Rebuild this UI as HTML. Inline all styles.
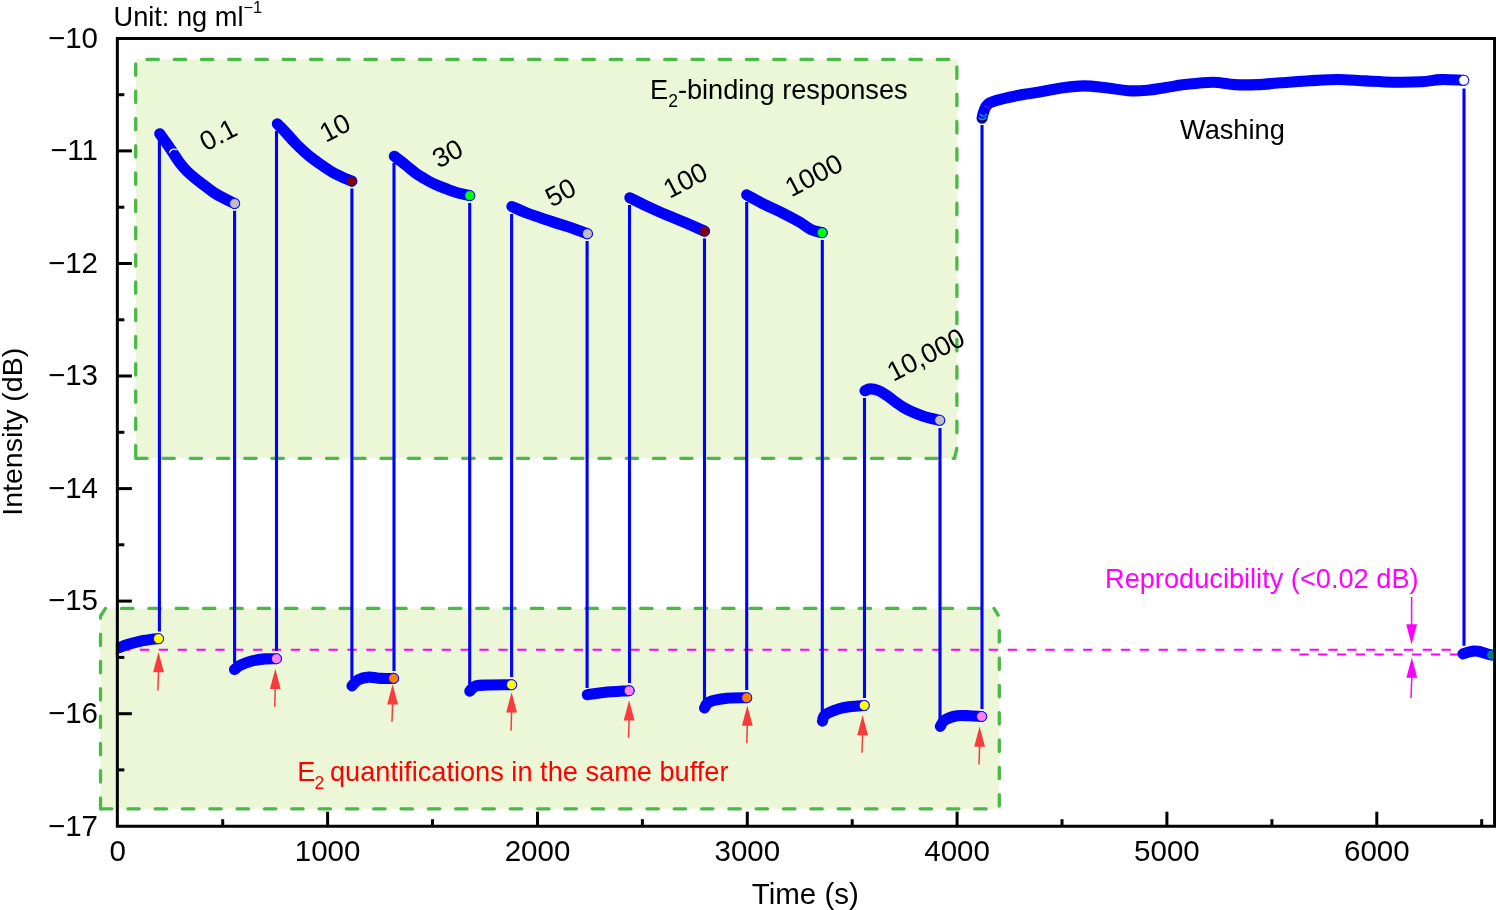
<!DOCTYPE html>
<html lang="en"><head><meta charset="utf-8"><title>E2 binding responses</title>
<style>html,body{margin:0;padding:0;background:#fff}body{width:1496px;height:910px;overflow:hidden}svg{display:block}text{font-family:"Liberation Sans",sans-serif;fill:#000}</style>
</head><body>
<svg width="1496" height="910" viewBox="0 0 1496 910">
<rect width="1496" height="910" fill="#fff"/>
<defs><clipPath id="plot"><rect x="115.85" y="38.4" width="1378.75" height="787.8000000000001"/></clipPath></defs>
<path d="M135.7,458.3 L954.5,458.3 L956.9,448 L956.9,59.4 L135.7,59.4 Z" fill="#ebf7d6"/>
<path d="M100.5,808.8 L999.3,808.8 L999.3,617 L994,608.4 L105.5,608.4 L100.5,616 Z" fill="#ebf7d6"/>
<path d="M135.7,458.3 L954.5,458.3 L956.9,448 L956.9,59.4 L135.7,59.4 Z" fill="none" stroke="#4cb848" stroke-width="3.3" stroke-linecap="round" stroke-linejoin="round" stroke-dasharray="11.4 15.85"/>
<path d="M100.5,808.8 L999.3,808.8 L999.3,617 L994,608.4" fill="none" stroke="#4cb848" stroke-width="3.3" stroke-linecap="round" stroke-linejoin="round" stroke-dasharray="11.4 15.92"/>
<path d="M994,608.4 L105.5,608.4 L100.5,616 L100.5,808.8" fill="none" stroke="#4cb848" stroke-width="3.3" stroke-linecap="round" stroke-linejoin="round" stroke-dasharray="11.4 15.92" stroke-dashoffset="13.2"/>
<path d="M121,649.7 H1463" stroke="#ff00ff" stroke-width="2.1" stroke-dasharray="9.3 9.565" fill="none"/>
<path d="M1299.3,654.5 H1459.5" stroke="#ff00ff" stroke-width="2.1" stroke-dasharray="9.3 9.5" fill="none"/>
<path d="M159.4,631.4 V141" stroke="#0000ff" stroke-width="3.1" fill="none"/>
<path d="M234.6,210.8 V663" stroke="#0000ff" stroke-width="3.1" fill="none"/>
<path d="M276.5,651 V131" stroke="#0000ff" stroke-width="3.1" fill="none"/>
<path d="M351.9,188.5 V679" stroke="#0000ff" stroke-width="3.1" fill="none"/>
<path d="M394,671 V163" stroke="#0000ff" stroke-width="3.1" fill="none"/>
<path d="M469.7,203 V684.5" stroke="#0000ff" stroke-width="3.1" fill="none"/>
<path d="M511.6,677 V214" stroke="#0000ff" stroke-width="3.1" fill="none"/>
<path d="M587.1,241 V688" stroke="#0000ff" stroke-width="3.1" fill="none"/>
<path d="M629.5,683 V205" stroke="#0000ff" stroke-width="3.1" fill="none"/>
<path d="M704.5,238.5 V701" stroke="#0000ff" stroke-width="3.1" fill="none"/>
<path d="M746.7,690 V202" stroke="#0000ff" stroke-width="3.1" fill="none"/>
<path d="M822.3,240 V714" stroke="#0000ff" stroke-width="3.1" fill="none"/>
<path d="M864.5,698 V398" stroke="#0000ff" stroke-width="3.1" fill="none"/>
<path d="M940,428 V720" stroke="#0000ff" stroke-width="3.1" fill="none"/>
<path d="M982,709 V125" stroke="#0000ff" stroke-width="3.1" fill="none"/>
<path d="M1464.0,88.4 V645.8" stroke="#0000ff" stroke-width="3.1" fill="none"/>
<g clip-path="url(#plot)">
<path d="M112.0,650.2 C112.9,649.8 115.5,648.8 117.6,648.0 C119.7,647.2 122.2,646.4 124.5,645.6 C126.8,644.8 129.0,644.1 131.6,643.4 C134.2,642.7 137.6,641.7 140.0,641.2 C142.4,640.7 144.0,640.5 146.0,640.2 C148.0,639.9 149.9,639.5 152.0,639.3 C154.1,639.0 157.4,638.8 158.5,638.7" stroke="#0000ff" stroke-width="11.1" stroke-linecap="round" stroke-linejoin="round" fill="none"/>
<path d="M159.7,133.7 C160.8,135.3 164.3,139.9 166.5,143.1 C168.7,146.3 170.9,149.7 173.1,153.0 C175.3,156.3 177.3,159.8 179.7,162.9 C182.1,166.0 184.7,168.9 187.4,171.6 C190.2,174.3 193.3,176.9 196.2,179.3 C199.1,181.7 202.0,183.7 204.9,185.9 C207.8,188.1 210.8,190.6 213.7,192.5 C216.6,194.4 219.0,195.7 222.5,197.5 C226.0,199.3 232.6,202.5 234.6,203.5" stroke="#0000ff" stroke-width="11.1" stroke-linecap="round" stroke-linejoin="round" fill="none"/>
<path d="M234.5,669.5 C235.5,668.8 237.6,666.6 240.7,665.1 C243.8,663.6 248.9,661.7 253.0,660.7 C257.1,659.7 261.4,659.2 265.3,658.9 C269.2,658.6 274.5,658.7 276.4,658.7" stroke="#0000ff" stroke-width="11.1" stroke-linecap="round" stroke-linejoin="round" fill="none"/>
<path d="M277.3,123.7 C278.8,125.3 283.1,129.7 286.3,133.1 C289.5,136.5 292.6,140.4 296.3,144.1 C300.0,147.8 304.3,151.8 308.3,155.2 C312.3,158.5 316.4,161.4 320.4,164.2 C324.4,167.0 328.7,170.0 332.4,172.2 C336.1,174.4 339.2,175.7 342.4,177.2 C345.6,178.7 350.2,180.5 351.8,181.2" stroke="#0000ff" stroke-width="11.1" stroke-linecap="round" stroke-linejoin="round" fill="none"/>
<path d="M352.0,685.9 C353.0,684.9 355.3,681.3 358.1,679.8 C360.9,678.3 364.9,677.3 368.7,677.1 C372.5,676.9 376.9,678.2 381.0,678.4 C385.1,678.6 391.5,678.4 393.6,678.4" stroke="#0000ff" stroke-width="11.1" stroke-linecap="round" stroke-linejoin="round" fill="none"/>
<path d="M394.3,156.2 C395.6,157.2 399.6,160.1 402.1,162.1 C404.6,164.1 406.9,166.2 409.4,168.2 C411.8,170.2 414.4,172.3 416.8,174.0 C419.2,175.7 421.7,177.1 424.1,178.5 C426.6,179.9 429.1,181.4 431.5,182.6 C433.9,183.8 436.4,184.9 438.8,185.9 C441.2,186.9 443.8,187.9 446.2,188.8 C448.6,189.7 451.1,190.7 453.5,191.5 C455.9,192.3 458.2,193.0 460.9,193.7 C463.6,194.4 468.2,195.3 469.7,195.6" stroke="#0000ff" stroke-width="11.1" stroke-linecap="round" stroke-linejoin="round" fill="none"/>
<path d="M469.8,691.2 C470.8,690.3 472.8,686.9 475.9,685.9 C479.0,684.9 482.2,685.2 488.2,685.0 C494.1,684.8 507.7,684.8 511.6,684.7" stroke="#0000ff" stroke-width="11.1" stroke-linecap="round" stroke-linejoin="round" fill="none"/>
<path d="M511.9,206.5 C514.4,207.6 522.1,211.2 527.1,213.1 C532.1,215.0 536.9,216.5 541.8,218.2 C546.7,219.9 551.6,221.5 556.5,223.1 C561.4,224.7 566.1,226.0 571.2,227.8 C576.4,229.6 584.7,232.7 587.4,233.7" stroke="#0000ff" stroke-width="11.1" stroke-linecap="round" stroke-linejoin="round" fill="none"/>
<path d="M587.3,694.7 C590.1,694.3 597.0,693.1 604.0,692.4 C611.0,691.7 624.9,691.0 629.1,690.7" stroke="#0000ff" stroke-width="11.1" stroke-linecap="round" stroke-linejoin="round" fill="none"/>
<path d="M629.8,197.7 C632.9,199.2 642.2,204.0 648.2,206.8 C654.2,209.6 659.9,212.2 665.8,214.7 C671.7,217.2 676.9,219.1 683.4,221.8 C689.9,224.5 701.0,229.6 704.5,231.1" stroke="#0000ff" stroke-width="11.1" stroke-linecap="round" stroke-linejoin="round" fill="none"/>
<path d="M704.5,707.9 C705.3,706.9 705.8,703.4 709.5,701.8 C713.2,700.2 720.8,698.9 727.0,698.2 C733.2,697.5 743.4,697.8 746.7,697.7" stroke="#0000ff" stroke-width="11.1" stroke-linecap="round" stroke-linejoin="round" fill="none"/>
<path d="M746.7,194.9 C749.6,196.4 758.2,201.3 764.0,204.2 C769.8,207.1 775.6,209.5 781.5,212.4 C787.4,215.3 794.1,218.9 799.1,221.8 C804.1,224.7 807.5,227.9 811.4,229.7 C815.2,231.5 820.4,232.2 822.2,232.7" stroke="#0000ff" stroke-width="11.1" stroke-linecap="round" stroke-linejoin="round" fill="none"/>
<path d="M822.5,721.1 C823.0,720.1 822.4,717.0 825.2,714.9 C828.0,712.8 834.8,710.2 839.2,708.8 C843.6,707.4 847.3,707.0 851.5,706.5 C855.7,706.0 862.1,705.7 864.2,705.5" stroke="#0000ff" stroke-width="11.1" stroke-linecap="round" stroke-linejoin="round" fill="none"/>
<path d="M865.0,390.7 C865.8,390.4 867.7,388.9 870.0,388.9 C872.3,388.9 875.8,389.6 878.6,390.7 C881.5,391.8 884.2,393.8 887.1,395.7 C890.0,397.6 892.8,400.1 895.7,402.1 C898.6,404.1 901.4,406.2 904.3,407.9 C907.2,409.6 910.0,410.9 912.9,412.1 C915.8,413.4 918.5,414.4 921.4,415.4 C924.2,416.4 927.0,417.3 930.0,418.1 C933.0,418.9 938.1,419.9 939.7,420.3" stroke="#0000ff" stroke-width="11.1" stroke-linecap="round" stroke-linejoin="round" fill="none"/>
<path d="M940.3,726.4 C941.0,725.4 941.9,722.0 944.7,720.2 C947.5,718.4 952.9,716.5 957.0,715.8 C961.1,715.1 965.2,715.7 969.3,715.8 C973.4,715.9 979.5,716.4 981.6,716.5" stroke="#0000ff" stroke-width="11.1" stroke-linecap="round" stroke-linejoin="round" fill="none"/>
<path d="M982.1,118.2 C982.2,117.6 982.5,116.0 982.8,114.7 C983.1,113.5 983.6,112.0 984.1,110.7 C984.6,109.4 985.1,107.9 985.8,106.8 C986.5,105.7 987.3,104.7 988.3,103.9 C989.3,103.1 990.3,102.7 991.7,102.1 C993.1,101.5 994.6,101.0 996.7,100.4 C998.9,99.8 1001.6,99.1 1004.6,98.4 C1007.6,97.7 1011.2,96.9 1014.5,96.2 C1017.8,95.5 1021.0,94.8 1024.4,94.2 C1027.8,93.6 1028.5,93.9 1034.9,92.8 C1041.3,91.7 1054.8,88.9 1062.9,87.8 C1071.0,86.7 1076.3,85.9 1083.5,85.9 C1090.7,85.9 1098.5,87.0 1106.0,87.8 C1113.5,88.6 1121.5,90.3 1128.4,90.7 C1135.3,91.1 1141.0,90.8 1147.2,90.3 C1153.5,89.8 1159.7,88.5 1165.9,87.6 C1172.1,86.6 1176.8,85.5 1184.6,84.6 C1192.4,83.7 1204.3,82.2 1212.7,82.2 C1221.1,82.2 1227.3,84.2 1234.7,84.6 C1242.1,85.0 1249.4,84.9 1257.2,84.6 C1265.0,84.3 1272.8,83.4 1281.5,82.8 C1290.2,82.2 1300.2,81.2 1309.6,80.7 C1319.0,80.2 1328.3,79.5 1337.7,79.5 C1347.1,79.5 1356.4,80.5 1365.7,80.9 C1375.0,81.4 1384.4,82.1 1393.8,82.2 C1403.2,82.3 1414.1,82.2 1421.9,81.8 C1429.7,81.4 1433.6,79.8 1440.6,79.6 C1447.6,79.3 1459.8,80.2 1463.7,80.3" stroke="#0000ff" stroke-width="11.1" stroke-linecap="round" stroke-linejoin="round" fill="none"/>
<path d="M1463.0,653.9 C1463.8,653.6 1466.3,652.7 1468.0,652.2 C1469.7,651.7 1471.7,651.2 1473.4,651.1 C1475.1,651.0 1476.5,651.1 1478.0,651.3 C1479.5,651.5 1480.8,651.9 1482.3,652.3 C1483.8,652.7 1485.5,653.3 1487.0,653.8 C1488.5,654.2 1490.8,654.8 1491.6,655.0" stroke="#0000ff" stroke-width="11.1" stroke-linecap="round" stroke-linejoin="round" fill="none"/>
<circle cx="158.5" cy="638.7" r="5.0" fill="#ffff00" stroke="#0000ff" stroke-width="0.9"/>
<circle cx="234.6" cy="203.5" r="5.0" fill="#c0c0c0" stroke="#0000ff" stroke-width="0.9"/>
<circle cx="276.4" cy="658.7" r="5.0" fill="#ff80f8" stroke="#0000ff" stroke-width="0.9"/>
<circle cx="351.8" cy="181.2" r="5.0" fill="#800000" stroke="#0000ff" stroke-width="0.9"/>
<circle cx="393.6" cy="678.4" r="5.0" fill="#ff8000" stroke="#0000ff" stroke-width="0.9"/>
<circle cx="469.7" cy="195.6" r="5.0" fill="#00ff00" stroke="#0000ff" stroke-width="0.9"/>
<circle cx="511.6" cy="684.7" r="5.0" fill="#ffff00" stroke="#0000ff" stroke-width="0.9"/>
<circle cx="587.4" cy="233.7" r="5.0" fill="#c0c0c0" stroke="#0000ff" stroke-width="0.9"/>
<circle cx="629.1" cy="690.7" r="5.0" fill="#ff80f8" stroke="#0000ff" stroke-width="0.9"/>
<circle cx="704.5" cy="231.1" r="5.0" fill="#800000" stroke="#0000ff" stroke-width="0.9"/>
<circle cx="746.7" cy="697.7" r="5.0" fill="#ff8000" stroke="#0000ff" stroke-width="0.9"/>
<circle cx="822.2" cy="232.7" r="5.0" fill="#00ff00" stroke="#0000ff" stroke-width="0.9"/>
<circle cx="864.2" cy="705.5" r="5.0" fill="#ffff00" stroke="#0000ff" stroke-width="0.9"/>
<circle cx="939.7" cy="420.3" r="5.0" fill="#c0c0c0" stroke="#0000ff" stroke-width="0.9"/>
<circle cx="981.6" cy="716.5" r="5.0" fill="#ff80f8" stroke="#0000ff" stroke-width="0.9"/>
<circle cx="1463.7" cy="80.3" r="5.0" fill="#ffffff" stroke="#0000ff" stroke-width="0.9"/>
<circle cx="1491.6" cy="655" r="5.0" fill="#008080" stroke="#0000ff" stroke-width="0.9"/>
<path d="M979.4,120.3 A3.6,3.6 0 0 0 985.6,119.6" stroke="#000" stroke-width="1.6" fill="none" stroke-linecap="round"/>
<path d="M979.2,118.0 A4,4 0 0 0 985.9,117.6" stroke="#00b050" stroke-width="1.5" fill="none" stroke-linecap="round"/>
<path d="M980.2,114.4 A4,4 0 0 0 986.6,114.6" stroke="#00a0ff" stroke-width="1.5" fill="none" stroke-linecap="round"/>
<path d="M985.2,106.4 L990.2,108.3" stroke="#c000c0" stroke-width="0.9" fill="none" stroke-linecap="round"/>
<path d="M169.6,152.4 A5,5 0 0 1 176.6,149.6" stroke="#fff" stroke-width="1.3" fill="none" stroke-linecap="round"/>
</g>
<path d="M158.5,652.0 L163.9,672.2 L153.1,672.2 Z" fill="#f83c3c"/>
<path d="M158.5,671.7 L157.9,690.5" stroke="#f83c3c" stroke-width="1.5" fill="none"/>
<path d="M275.3,668.8 L280.7,689.0 L269.90000000000003,689.0 Z" fill="#f83c3c"/>
<path d="M275.3,688.5 L274.7,706.7" stroke="#f83c3c" stroke-width="1.5" fill="none"/>
<path d="M392.6,684.3 L398.0,704.5 L387.20000000000005,704.5 Z" fill="#f83c3c"/>
<path d="M392.6,704 L392.0,722" stroke="#f83c3c" stroke-width="1.5" fill="none"/>
<path d="M511.6,692.3 L517.0,712.5 L506.20000000000005,712.5 Z" fill="#f83c3c"/>
<path d="M511.6,712 L511.0,730.8" stroke="#f83c3c" stroke-width="1.5" fill="none"/>
<path d="M629.1,700.1999999999999 L634.5,720.4 L623.7,720.4 Z" fill="#f83c3c"/>
<path d="M629.1,719.9 L628.5,737.8" stroke="#f83c3c" stroke-width="1.5" fill="none"/>
<path d="M747.3,705.5 L752.6999999999999,725.7 L741.9,725.7 Z" fill="#f83c3c"/>
<path d="M747.3,725.2 L746.6999999999999,743.1" stroke="#f83c3c" stroke-width="1.5" fill="none"/>
<path d="M862.6,715.0999999999999 L868.0,735.3 L857.2,735.3 Z" fill="#f83c3c"/>
<path d="M862.6,734.8 L862.0,752.7" stroke="#f83c3c" stroke-width="1.5" fill="none"/>
<path d="M979.6,726.5999999999999 L985.0,746.8 L974.2,746.8 Z" fill="#f83c3c"/>
<path d="M979.6,746.3 L979.0,764.5" stroke="#f83c3c" stroke-width="1.5" fill="none"/>
<path d="M1411.6,644.6 L1406.2,624.2 L1417,624.2 Z" fill="#ff00ff"/><path d="M1411.6,597 V625" stroke="#ff00ff" stroke-width="1.5"/>
<path d="M1411.8,657.6 L1406.4,677.8 L1417.2,677.8 Z" fill="#ff00ff"/><path d="M1411.8,677 L1411,698" stroke="#ff00ff" stroke-width="1.5"/>
<path d="M117.35,827.7 V38.4 H1494.6 V826.2 H115.85" fill="none" stroke="#000" stroke-width="3" stroke-linejoin="miter"/>
<path d="M117.35,94.7 h7" stroke="#000" stroke-width="3"/>
<path d="M117.35,150.9 h14.5" stroke="#000" stroke-width="3"/>
<path d="M117.35,207.2 h7" stroke="#000" stroke-width="3"/>
<path d="M117.35,263.5 h14.5" stroke="#000" stroke-width="3"/>
<path d="M117.35,319.8 h7" stroke="#000" stroke-width="3"/>
<path d="M117.35,376.0 h14.5" stroke="#000" stroke-width="3"/>
<path d="M117.35,432.3 h7" stroke="#000" stroke-width="3"/>
<path d="M117.35,488.6 h14.5" stroke="#000" stroke-width="3"/>
<path d="M117.35,544.8 h7" stroke="#000" stroke-width="3"/>
<path d="M117.35,601.1 h14.5" stroke="#000" stroke-width="3"/>
<path d="M117.35,657.4 h7" stroke="#000" stroke-width="3"/>
<path d="M117.35,713.7 h14.5" stroke="#000" stroke-width="3"/>
<path d="M117.35,769.9 h7" stroke="#000" stroke-width="3"/>
<path d="M222.7,826.2 v-7" stroke="#000" stroke-width="3"/>
<path d="M327.6,826.2 v-14.5" stroke="#000" stroke-width="3"/>
<path d="M432.5,826.2 v-7" stroke="#000" stroke-width="3"/>
<path d="M537.5,826.2 v-14.5" stroke="#000" stroke-width="3"/>
<path d="M642.4,826.2 v-7" stroke="#000" stroke-width="3"/>
<path d="M747.3,826.2 v-14.5" stroke="#000" stroke-width="3"/>
<path d="M852.2,826.2 v-7" stroke="#000" stroke-width="3"/>
<path d="M957.1,826.2 v-14.5" stroke="#000" stroke-width="3"/>
<path d="M1062.0,826.2 v-7" stroke="#000" stroke-width="3"/>
<path d="M1166.9,826.2 v-14.5" stroke="#000" stroke-width="3"/>
<path d="M1271.9,826.2 v-7" stroke="#000" stroke-width="3"/>
<path d="M1376.8,826.2 v-14.5" stroke="#000" stroke-width="3"/>
<path d="M1481.7,826.2 v-7" stroke="#000" stroke-width="3"/>
<text x="98" y="47.7" font-size="29.5" text-anchor="end">−10</text>
<text x="98" y="160.2" font-size="29.5" text-anchor="end">−11</text>
<text x="98" y="272.8" font-size="29.5" text-anchor="end">−12</text>
<text x="98" y="385.3" font-size="29.5" text-anchor="end">−13</text>
<text x="98" y="497.9" font-size="29.5" text-anchor="end">−14</text>
<text x="98" y="610.4" font-size="29.5" text-anchor="end">−15</text>
<text x="98" y="723.0" font-size="29.5" text-anchor="end">−16</text>
<text x="98" y="835.5" font-size="29.5" text-anchor="end">−17</text>
<text x="117.8" y="860.8" font-size="29.5" text-anchor="middle">0</text>
<text x="327.6" y="860.8" font-size="29.5" text-anchor="middle">1000</text>
<text x="537.5" y="860.8" font-size="29.5" text-anchor="middle">2000</text>
<text x="747.3" y="860.8" font-size="29.5" text-anchor="middle">3000</text>
<text x="957.1" y="860.8" font-size="29.5" text-anchor="middle">4000</text>
<text x="1166.9" y="860.8" font-size="29.5" text-anchor="middle">5000</text>
<text x="1376.8" y="860.8" font-size="29.5" text-anchor="middle">6000</text>
<text x="805.3" y="903.5" font-size="29.5" text-anchor="middle">Time (s)</text>
<text transform="translate(21.5,431.8) rotate(-90)" font-size="28.5" text-anchor="middle">Intensity (dB)</text>
<text x="113.5" y="25.5" font-size="27.2">Unit: ng ml<tspan font-size="16.5" dy="-12.5">−1</tspan></text>
<text x="650" y="99" font-size="27.2">E<tspan font-size="17.5" dy="7.6">2</tspan><tspan dy="-7.6">-binding responses</tspan></text>
<text x="1180" y="138.5" font-size="27.2">Washing</text>
<text x="1105" y="588" font-size="27.2" style="fill:#ff00ff">Reproducibility (&lt;0.02 dB)</text>
<text x="297.3" y="781" font-size="27.2" style="fill:#ff0000">E<tspan font-size="17.5" dx="-1" dy="7.6">2</tspan><tspan x="330" dy="-7.6">quantifications in the same buffer</tspan></text>
<text transform="translate(222.5,143) rotate(-27.5)" font-size="27.2" text-anchor="middle">0.1</text>
<text transform="translate(339.2,136) rotate(-27.5)" font-size="27.2" text-anchor="middle">10</text>
<text transform="translate(451.8,161.7) rotate(-27.5)" font-size="27.2" text-anchor="middle">30</text>
<text transform="translate(564.8,200.7) rotate(-27.5)" font-size="27.2" text-anchor="middle">50</text>
<text transform="translate(689.6,188.5) rotate(-27.5)" font-size="27.2" text-anchor="middle">100</text>
<text transform="translate(818,183.5) rotate(-27.5)" font-size="27.2" text-anchor="middle">1000</text>
<text transform="translate(930.1,362.9) rotate(-27.5)" font-size="27.2" text-anchor="middle">10,000</text>
</svg></body></html>
